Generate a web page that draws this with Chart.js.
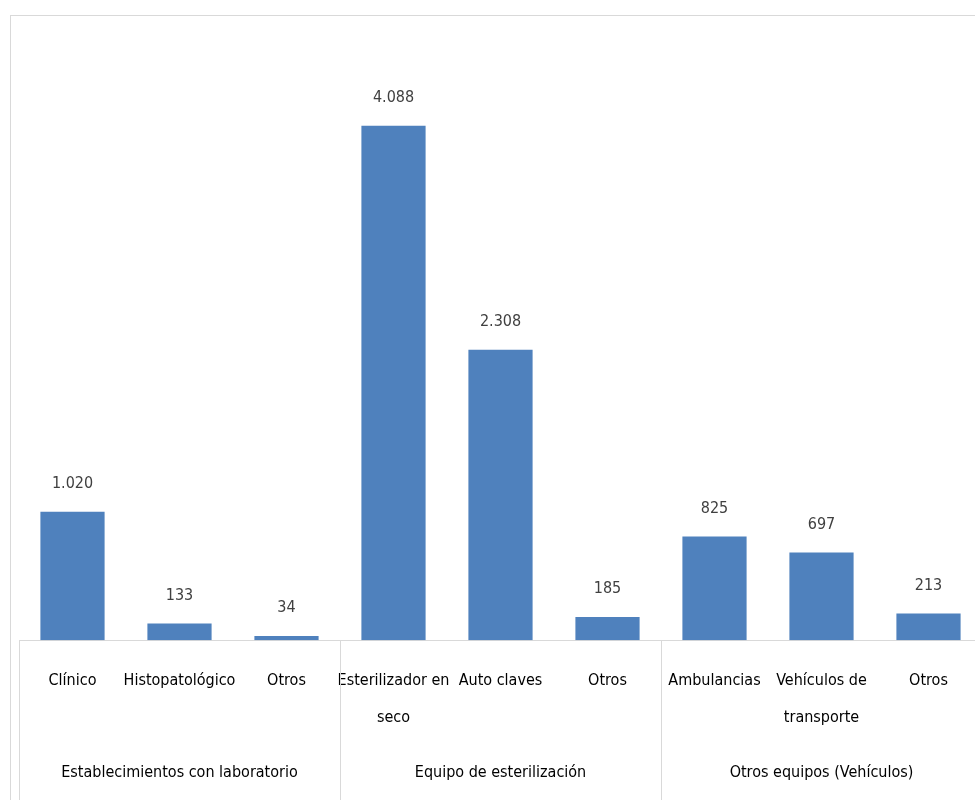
<!DOCTYPE html>
<html>
<head>
<meta charset="utf-8">
<script src="https://cdn.jsdelivr.net/npm/chart.js@4"></script>
<style>
    html, body { margin: 0; padding: 0; background: #fff; overflow: hidden; }
    #frame { position: absolute; left: 10px; top: 15px; width: 1000px; height: 900px; border: 1px solid #d9d9d9; }
    #wrap { position: absolute; left: 0; top: 0; width: 982px; height: 807px; }
</style>
</head>
<body>
<div id="frame"></div>
<div id="wrap"><canvas id="myChart"></canvas></div>
<script>
// categorías y valores
const categories = [
    'Clínico', 'Histopatológico', 'Otros',
    ['Esterilizador en', 'seco'], 'Auto claves', 'Otros',
    'Ambulancias', ['Vehículos de', 'transporte'], 'Otros'
]
const values = [1020, 133, 34, 4088, 2308, 185, 825, 697, 213]
const groups = ['Establecimientos con laboratorio', 'Equipo de esterilización', 'Otros equipos (Vehículos)']

const FONT = "'Liberation Sans Narrow', 'DejaVu Sans Condensed', 'Liberation Sans', sans-serif"

// etiquetas de valor encima de cada barra
const valueLabels = {
    id: 'valueLabels',
    afterDatasetsDraw(chart) {
        const ctx = chart.ctx
        const meta = chart.getDatasetMeta(0)
        ctx.save()
        ctx.font = `16px ${FONT}`
        ctx.fillStyle = '#404040'
        ctx.textAlign = 'center'
        ctx.textBaseline = 'middle'
        meta.data.forEach((bar, i) => {
            const v = values[i]
            const s = v >= 1000 ? Math.floor(v / 1000) + '.' + String(v % 1000).padStart(3, '0') : String(v)
            ctx.fillText(s, bar.x, bar.y - 28)
        })
        ctx.restore()
    }
}

// líneas separadoras de grupos
const separators = {
    id: 'separators',
    afterDraw(chart) {
        const ctx = chart.ctx
        const x = chart.scales.x
        const step = x.getPixelForValue(1) - x.getPixelForValue(0)
        const bottom = chart.chartArea.bottom
        ctx.save()
        ctx.strokeStyle = '#d9d9d9'
        ctx.lineWidth = 1
        for (let g = 0; g <= groups.length; g++) {
            const px = Math.round(x.getPixelForValue(0) - step / 2 + g * 3 * step) + 0.5
            ctx.beginPath()
            ctx.moveTo(px, bottom)
            ctx.lineTo(px, 800)
            ctx.stroke()
        }
        ctx.restore()
    }
}

new Chart(document.getElementById('myChart'), {
    type: 'bar',
    data: {
        labels: categories,
        datasets: [{
            data: values,
            backgroundColor: '#4f81bd',
            categoryPercentage: 1,
            barPercentage: 0.6
        }]
    },
    options: {
        responsive: true,
        maintainAspectRatio: false,
        animation: false,
        layout: { padding: { left: 19, right: 0, top: 74, bottom: 20 } },
        plugins: { legend: { display: false }, tooltip: { enabled: false } },
        scales: {
            y: { display: false, min: 0, max: 4500 },
            x: {
                grid: { display: false },
                border: { display: true, color: '#d9d9d9' },
                ticks: { color: '#000', font: { family: FONT, size: 16, lineHeight: 2.3 }, padding: 14, maxRotation: 0, autoSkip: false }
            },
            x2: {
                type: 'category',
                labels: groups,
                position: 'bottom',
                grid: { display: false },
                border: { display: false },
                ticks: { color: '#000', font: { family: FONT, size: 16, lineHeight: 1.2 }, padding: 5, maxRotation: 0 }
            }
        }
    },
    plugins: [valueLabels, separators]
})
</script>
</body>
</html>
